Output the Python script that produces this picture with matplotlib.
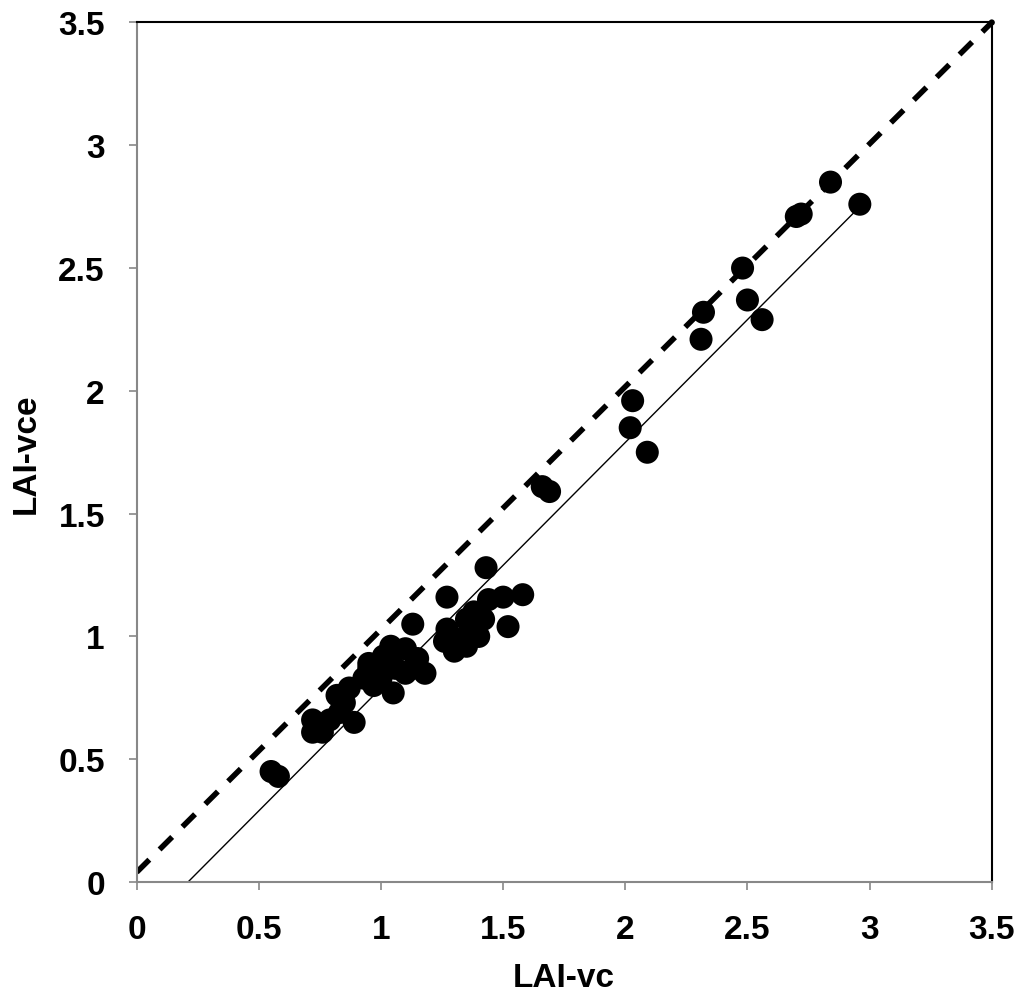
import matplotlib
matplotlib.use("Agg")
import matplotlib.pyplot as plt
import numpy as np

plt.rcParams['font.family'] = ['Liberation Sans', 'DejaVu Sans']

# LAI-vc (x) and LAI-vce (y) observations
lai_vc = [2.84, 2.96, 2.70, 2.72, 2.48, 2.50, 2.56, 2.32, 2.31, 2.03, 2.02, 2.09,
          1.66, 1.69,
          1.43, 1.27, 1.58, 1.13, 1.52, 1.50, 1.44, 1.38, 1.35, 1.27, 1.30, 1.26,
          1.35, 1.40, 1.38, 1.32, 1.42,
          1.04, 1.10, 1.01, 1.15, 1.18, 0.95, 1.06, 1.00, 0.93, 1.05, 0.97, 1.10,
          1.04, 1.13,
          0.82, 0.87, 0.72, 0.72, 0.76, 0.79, 0.89, 0.83, 0.85, 0.95,
          0.55, 0.58]
lai_vce = [2.85, 2.76, 2.71, 2.72, 2.50, 2.37, 2.29, 2.32, 2.21, 1.96, 1.85, 1.75,
           1.61, 1.59,
           1.28, 1.16, 1.17, 1.05, 1.04, 1.16, 1.15, 1.10, 1.07, 1.03, 0.94, 0.98,
           0.96, 1.00, 1.03, 0.99, 1.07,
           0.96, 0.95, 0.92, 0.91, 0.85, 0.87, 0.87, 0.83, 0.83, 0.77, 0.80, 0.85,
           0.90, 0.87,
           0.76, 0.79, 0.66, 0.61, 0.61, 0.66, 0.65, 0.69, 0.73, 0.89,
           0.45, 0.43]

# reference lines
one_to_one_x = [0.0, 3.5]
one_to_one_y = [0.04, 3.5]
fit_x = [0.21, 2.97]
fit_y = [0.0, 2.76]

ticks = [0, 0.5, 1, 1.5, 2, 2.5, 3, 3.5]
tick_labels = ['0', '0.5', '1', '1.5', '2', '2.5', '3', '3.5']

fig = plt.figure(figsize=(10.24, 10.04), dpi=100)
ax = fig.add_axes([0.1335, 0.1205, 0.835, 0.8561])

ax.plot(one_to_one_x, one_to_one_y, color='black', lw=4, ls=(0, (3.2, 2.6)), zorder=2)
ax.plot(fit_x, fit_y, color='black', lw=1.0, zorder=2)
ax.scatter(lai_vc, lai_vce, s=275, color='black', edgecolors='none', zorder=3)
ax.scatter([3.5], [3.5], s=20, color='black', edgecolors='none', zorder=4, clip_on=False)

ax.set_xlim(0, 3.5)
ax.set_ylim(0, 3.5)
ax.set_xticks(ticks)
ax.set_yticks(ticks)
ax.set_xticklabels(tick_labels, fontsize=24, fontweight='bold')
ax.set_yticklabels(tick_labels, fontsize=24, fontweight='bold')
ax.tick_params(axis='x', direction='out', length=6, width=1.2, color='#888888', pad=17)
ax.tick_params(axis='y', direction='out', length=6, width=1.2, color='#888888', pad=17)

for side in ['left', 'bottom']:
    ax.spines[side].set_color('#888888')
    ax.spines[side].set_linewidth(1.5)
for side in ['top', 'right']:
    ax.spines[side].set_color('black')
    ax.spines[side].set_linewidth(1.5)

ax.set_xlabel('LAI-vc', fontsize=24, fontweight='bold', labelpad=12)
ax.set_ylabel('LAI-vce', fontsize=24, fontweight='bold', labelpad=12)

fig.savefig('out.png', dpi=100, facecolor='white')
